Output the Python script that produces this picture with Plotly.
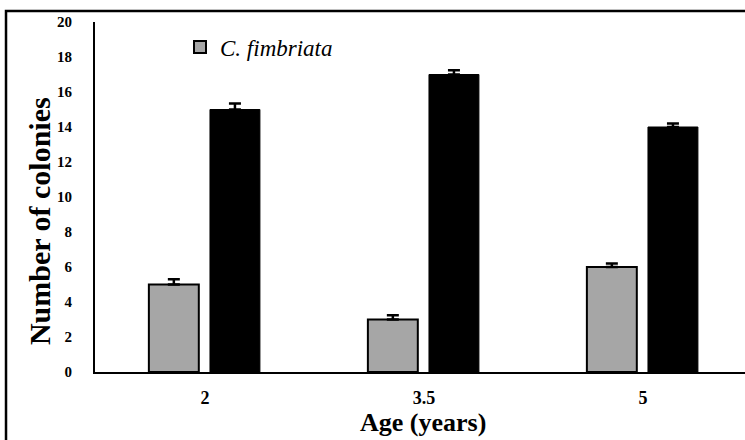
import plotly.graph_objects as go

ages = ["2", "3.5", "5"]
fimbriata = [5, 3, 6]
fimbriata_err = [0.3, 0.25, 0.2]
other = [15, 17, 14]
other_err = [0.35, 0.25, 0.2]
y_ticks = [0, 2, 4, 6, 8, 10, 12, 14, 16, 18, 20]

xpos = list(range(len(ages)))
SERIF = "Liberation Serif, Times New Roman, serif"
no_minus = [0] * len(ages)

fig = go.Figure()
fig.add_trace(go.Bar(
    x=xpos, y=fimbriata, name="<i>C. fimbriata</i>",
    width=0.228, offset=-0.256,
    marker=dict(color="#A6A6A6", line=dict(color="black", width=2)),
    error_y=dict(type="data", array=fimbriata_err, arrayminus=no_minus, symmetric=False,
                 visible=True, color="black", thickness=2.5, width=6),
))
fig.add_trace(go.Bar(
    x=xpos, y=other, name="", showlegend=False,
    width=0.228, offset=0.023,
    marker=dict(color="black", line=dict(color="black", width=1)),
    error_y=dict(type="data", array=other_err, arrayminus=no_minus, symmetric=False,
                 visible=True, color="black", thickness=2.5, width=6),
))

fig.update_layout(
    width=745, height=440,
    margin=dict(l=95, r=0, t=22, b=68),
    paper_bgcolor="white", plot_bgcolor="white",
    barmode="overlay",
    font=dict(family=SERIF, color="black"),
    showlegend=True,
    legend=dict(x=0.1308, y=0.9286, xanchor="left", yanchor="middle",
                font=dict(family=SERIF, size=23), bgcolor="rgba(0,0,0,0)",
                itemwidth=30, tracegroupgap=0),
    xaxis=dict(
        range=[-0.502, 2.466], tickmode="array", tickvals=xpos, ticktext=ages,
        showline=True, linecolor="black", linewidth=2, showgrid=False, zeroline=False,
        ticks="", tickfont=dict(family=SERIF, size=18, color="black", weight="bold"),
        ticklabelstandoff=8,
    ),
    yaxis=dict(
        range=[0, 20], tickmode="array", tickvals=y_ticks,
        showline=True, linecolor="black", linewidth=2, showgrid=False, zeroline=False,
        ticks="", tickfont=dict(family=SERIF, size=15, color="black", weight="bold"),
        ticklabelstandoff=18,
    ),
    annotations=[
        dict(text="<b>Age (years)</b>", xref="paper", yref="paper", x=0.505, y=-0.143,
             xanchor="center", yanchor="middle", showarrow=False,
             font=dict(family=SERIF, size=26, color="black")),
        dict(text="<b>Number of colonies</b>", xref="paper", yref="paper", x=-0.0862, y=0.431,
             xanchor="center", yanchor="middle", showarrow=False, textangle=-90,
             font=dict(family=SERIF, size=30, color="black")),
    ],
    shapes=[dict(type="rect", xref="paper", yref="paper",
                 x0=-0.1369, x1=1.05, y0=-0.5, y1=1.0314,
                 line=dict(color="black", width=2.5), fillcolor="rgba(0,0,0,0)", layer="above")],
)

fig.write_html("out.html", config={"displayModeBar": False},
               post_script="document.body.style.margin='0';document.body.style.overflow='hidden';")
